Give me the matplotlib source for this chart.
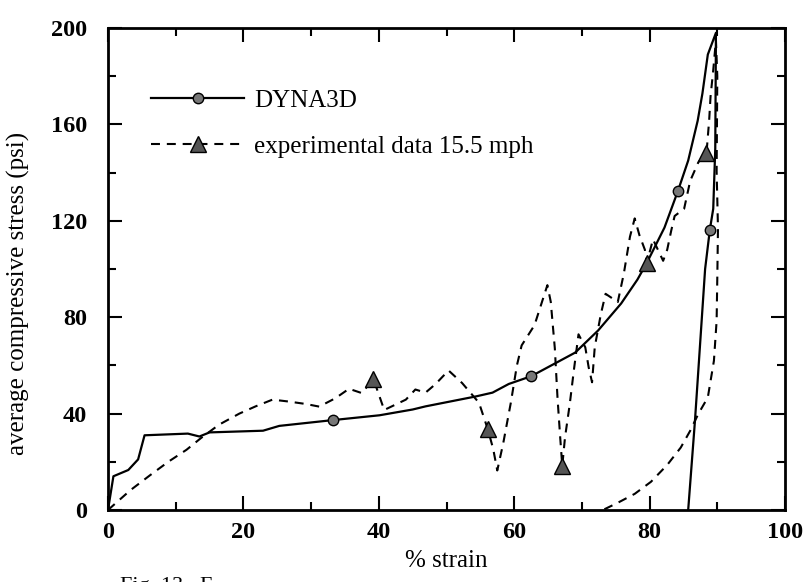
import matplotlib
matplotlib.use("Agg")
import matplotlib.pyplot as plt
from matplotlib.ticker import MultipleLocator

plt.rcParams['font.family'] = ['Liberation Serif', 'DejaVu Serif']

# DYNA3D (loading then unloading)
dyna_x = [0, 0.8, 3.0, 4.45, 5.4, 11.8, 13.5, 15.0, 22.9, 25.3, 33.2, 40.1, 45.0, 46.9,
          54.3, 56.8, 59.2, 62.5, 69.0, 72.4, 75.8, 78.2, 79.6, 82.2, 84.2, 85.7, 87.1,
          87.8, 88.6, 89.8,
          89.7, 89.4, 88.9, 88.2, 86.7, 85.7]
dyna_y = [0, 14, 16.6, 21, 31, 31.7, 30.5, 32.2, 32.9, 34.9, 37.3, 39.3, 41.7, 43,
          47.1, 48.7, 52.3, 55.5, 65.3, 74.5, 85.7, 95.6, 102.6, 117.2, 132.5, 145, 161.5,
          172.8, 189, 198,
          150, 125, 116.3, 100, 37, 0]
dyna_marks = [10, 17, 24, 32]

# experimental data 15.5 mph (loading then unloading)
exp_x = [0, 3.3, 6.2, 8.9, 11.6, 13.8, 16.4, 19.4, 21.8, 24.3, 26.7, 29.2, 31.2, 33.6,
         35.6, 37.5, 39.2, 40.8, 44.0, 45.4, 46.9, 48.4, 50.3, 52.3, 54.8, 56.1, 56.9,
         57.5, 58.4, 59.5, 60.4, 61.1, 63.0, 64.9, 65.4, 66.0, 66.4, 66.8, 67.1, 67.5,
         68.2, 68.8, 69.5, 70.5, 71.0, 71.5, 71.9, 72.8, 73.5, 75.3, 76.2, 77.1, 77.8,
         78.5, 79.3, 79.6, 80.5, 82.0, 82.6, 83.2, 83.7, 85.1, 86.0, 87.2, 88.4, 88.8,
         89.0, 89.4, 89.8,
         90.0, 89.9, 90.1, 90.0, 89.9, 89.5, 88.6, 87.2, 86.0, 84.6, 82.6, 80.2, 77.8,
         75.3, 73.1]
exp_y = [0, 8.2, 14.4, 20, 25, 30, 35.4, 40, 43, 45.8, 45, 44, 42.9, 46.4,
         50.3, 48.5, 54.4, 41.5, 45.8, 50, 48.7, 52.3, 57.9, 52.7, 44.5, 33.5, 25.3,
         16.4, 28, 44.5, 60, 68.3, 76.7, 93.3, 86.4, 67.1, 46.4, 29.9, 18.3, 30,
         43.8, 57.7, 72.9, 67.5, 59.2, 53, 67.6, 81.3, 89.7, 86.3, 98.2, 113.4, 121,
         114, 108, 102.6, 112.3, 103.4, 108, 116, 122, 125, 136.6, 144.3, 148, 161.8,
         171.5, 182.5, 195,
         180, 140.5, 117, 96.4, 78.5, 61.9, 46.7, 39.9, 32.9, 25.9, 18.7, 11.7, 6.7,
         3, 0]
exp_marks = [16, 25, 38, 55, 64]

x_ticks = [0, 20, 40, 60, 80, 100]
y_ticks = [0, 40, 80, 120, 160, 200]

fig = plt.figure(figsize=(8.05, 5.82), dpi=100)
ax = fig.add_axes([108/805, 1 - 510/582, (785 - 108)/805, (510 - 28)/582])

ax.plot(dyna_x, dyna_y, color='black', lw=1.6, marker='o', markevery=dyna_marks,
        markersize=7.5, markerfacecolor='#777777', markeredgecolor='black',
        markeredgewidth=1.0, label='DYNA3D')
ax.plot(exp_x, exp_y, color='black', lw=1.5, linestyle=(0, (4.3, 3.3)), marker='^',
        markevery=exp_marks, markersize=12, markerfacecolor='#555555',
        markeredgecolor='black', markeredgewidth=1.0,
        label='experimental data 15.5 mph')

ax.set_xlim(0, 100)
ax.set_ylim(0, 200)
ax.set_xticks(x_ticks)
ax.set_yticks(y_ticks)
ax.xaxis.set_minor_locator(MultipleLocator(10))
ax.yaxis.set_minor_locator(MultipleLocator(20))
ax.tick_params(which='both', direction='in', top=True, right=True, width=1.5)
ax.tick_params(which='major', length=10, labelsize=17.5)
ax.tick_params(axis='x', which='major', pad=9)
ax.tick_params(axis='y', which='major', pad=15)
ax.tick_params(which='minor', length=6)
for lab in ax.get_xticklabels() + ax.get_yticklabels():
    lab.set_fontweight('bold')
for s in ax.spines.values():
    s.set_linewidth(2)

ax.set_xlabel('% strain', fontsize=18, labelpad=5)
ax.set_ylabel('average compressive stress (psi)', fontsize=18)
ax.yaxis.set_label_coords(-0.115, 0.45)

leg = ax.legend(loc='upper left', bbox_to_anchor=(0.064, 0.873), frameon=False,
                fontsize=18, handlelength=3.7, handletextpad=0.4, borderpad=0,
                borderaxespad=0, labelspacing=0.95, numpoints=1)

fig.text(120/805, 1 - 577/582, 'Fig. 13.  F', fontsize=16, va='top', ha='left')

fig.savefig('out.png', dpi=100)
